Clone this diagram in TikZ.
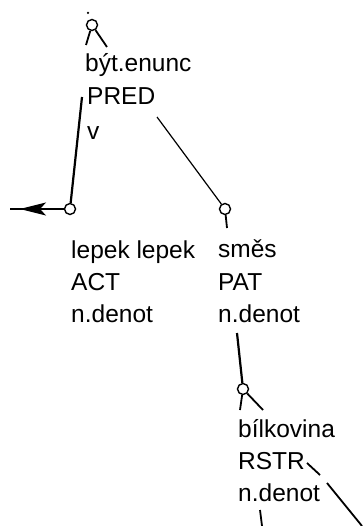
\documentclass[tikz,border=0pt]{standalone}
\usepackage{fontspec}
\setmainfont{Liberation Sans}
\usetikzlibrary{arrows.meta}
\begin{document}
\begin{tikzpicture}[x=1pt,y=-1pt,
  lbl/.style={anchor=base west,inner sep=0pt,font=\fontsize{24.5}{30}\selectfont},
  knot/.style={circle,draw,line width=1.4pt,minimum size=11pt,inner sep=0pt,fill=white},
  dotmark/.style={circle,fill,minimum size=2.5pt,inner sep=0pt},
  edge/.style={line width=1.2pt},
  heavy/.style={line width=2.2pt},
  leg/.style={line width=1.8pt},
]
\useasboundingbox (0,0) rectangle (362,526);

% tree nodes (knots)
\node[dotmark] (topdot) at (88,13) {};
\node[knot] (top) at (92,25) {};
\node[knot] (lepek) at (70,209) {};
\node[knot] (smes) at (225,209) {};
\node[knot] (bilk) at (243,389) {};

% free ends of connectors
\coordinate (topL) at (86,45);
\coordinate (topR) at (107,47);
\coordinate (vtop) at (82,97);
\coordinate (predR) at (157,117);
\coordinate (tail) at (10,209);
\coordinate (tipA) at (20,209);
\coordinate (tipB) at (46,209);
\coordinate (smesS) at (227,228);
\coordinate (denotS) at (237,333);
\coordinate (bilkL) at (240,410);
\coordinate (bilkR) at (263,410);
\coordinate (rstrA) at (307,463);
\coordinate (rstrB) at (320,475);
\coordinate (diagA) at (327,483);
\coordinate (diagB) at (362,526);
\coordinate (tickA) at (260,510);
\coordinate (tickB) at (262,526);

% labels
\node[lbl] (t1) at (85,72) {být.enunc};
\node[lbl] (t2) at (87,105) {PRED};
\node[lbl] (vl) at (87,140) {v};
\node[lbl] (l1) at (71,258) {lepek lepek};
\node[lbl] (l2) at (71,290) {ACT};
\node[lbl] (l3) at (71,322) {n.denot};
\node[lbl] (s1) at (218,257) {směs};
\node[lbl] (s2) at (218,290) {PAT};
\node[lbl] (s3) at (218,322) {n.denot};
\node[lbl] (b1) at (238,437) {bílkovina};
\node[lbl] (b2) at (238,469) {RSTR};
\node[lbl] (b3) at (238,501) {n.denot};

% connectors
\draw[leg] (top) -- (topL);
\draw[leg] (top) -- (topR);
\draw[heavy] (vtop) -- (lepek);
\draw[edge] (predR) -- (smes);
\draw[edge] (lepek) -- (tail);
\draw[line width=1.2pt,-{Stealth[length=26pt,width=13pt,inset=6pt]}] (tipB) -- (tipA);
\draw[leg] (smes) -- (smesS);
\draw[heavy] (denotS) -- (bilk);
\draw[leg] (bilk) -- (bilkL);
\draw[leg] (bilk) -- (bilkR);
\draw[leg] (rstrA) -- (rstrB);
\draw[leg] (diagA) -- (diagB);
\draw[leg] (tickA) -- (tickB);
\end{tikzpicture}
\end{document}
